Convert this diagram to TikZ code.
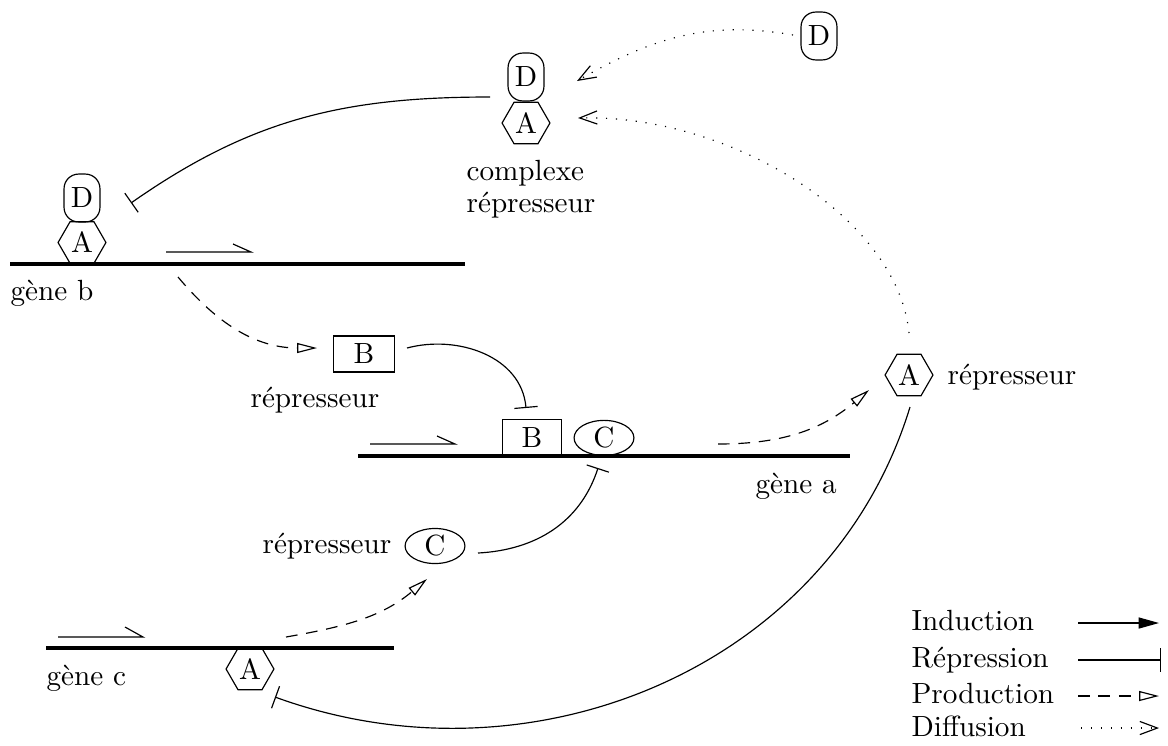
\documentclass[tikz,border=0pt]{standalone}
\usetikzlibrary{arrows.meta,shapes.geometric}
\tikzset{
  dbox/.style={draw, rounded corners=5pt, minimum width=12.3pt, minimum height=16.4pt, inner sep=0pt},
  hexa/.style={draw, regular polygon, regular polygon sides=6, minimum size=16.4pt, inner sep=0pt},
  bbox/.style={draw, rectangle, minimum width=20pt, minimum height=12.3pt, inner sep=0pt},
  cell/.style={draw, ellipse, minimum width=20.5pt, minimum height=12pt, inner sep=0pt},
  gene/.style={line width=1.1pt},
  lbl/.style={anchor=base west, inner sep=0pt},
  induce/.style={-{Triangle[length=7pt,width=3.8pt]}},
  repress/.style={-{Bar[width=8pt]}},
  produce/.style={dash pattern=on 4pt off 3pt, -{Triangle[open,length=6.8pt,width=3.4pt]}},
  diffuse/.style={dash pattern=on 0.4pt off 3pt, -{Straight Barb[length=6pt,width=4.5pt]}},
}
\begin{document}
\begin{tikzpicture}[x=0.3425pt,y=-0.3425pt]
\useasboundingbox (0,0) rectangle (1168,745);

% complex
\node[dbox] (Dfree) at (819,36) {D};
\node[dbox] (cD) at (526,77) {D};
\node[hexa] (cA) at (526,123) {A};
\node[lbl] (cplx1) at (466,180) {complexe};
\node[lbl] (cplx2) at (466,212) {répresseur};

% gene b
\coordinate (gb1) at (10,264); \coordinate (gb2) at (465,264);
\draw[gene] (gb1) -- (gb2);
\node[hexa] (bA) at (82,242.5) {A};
\node[dbox] (bD) at (82,198) {D};
\coordinate (pb1) at (166,252); \coordinate (pb2) at (251,252); \coordinate (pb3) at (233,244);
\draw (pb1) -- (pb2) -- (pb3);
\node[lbl] (gbl) at (10,300) {gène b};

% B repressor
\node[bbox, minimum width=20.9pt] (Brep) at (364,354) {B};
\node[lbl] (Brepl) at (250,407) {répresseur};

% gene a
\coordinate (ga1) at (358,456); \coordinate (ga2) at (850,456);
\draw[gene] (ga1) -- (ga2);
\coordinate (pa1) at (370,444); \coordinate (pa2) at (455,444); \coordinate (pa3) at (437,436);
\draw (pa1) -- (pa2) -- (pa3);
\node[bbox, minimum width=20.3pt, anchor=south] (aB) at (532,456) {B};
\node[cell, anchor=south] (aC) at (604,456) {C};
\node[lbl] (gal) at (755,493) {gène a};

% A repressor
\node[hexa] (Arep) at (909,375) {A};
\node[lbl] (Arepl) at (947,384) {répresseur};

% C repressor
\node[cell] (Crep) at (435,546) {C};
\node[lbl] (Crepl) at (262,553) {répresseur};

% gene c
\coordinate (gc1) at (46,648); \coordinate (gc2) at (394,648);
\draw[gene] (gc1) -- (gc2);
\coordinate (pc1) at (58,637); \coordinate (pc2) at (143,637); \coordinate (pc3) at (125,627);
\draw (pc1) -- (pc2) -- (pc3);
\node[hexa] (cgA) at (250,669) {A};
\node[lbl] (gcl) at (46,685) {gène c};

% connectors
\coordinate (cs) at (490,97); \coordinate (rb) at (131,203);
\draw[repress] (cs) to[out=180,in=35] (rb);

\coordinate (ds) at (793,35); \coordinate (de) at (577,81);
\draw[diffuse] (ds) to[out=170,in=30] (de);

\coordinate (as) at (909,333); \coordinate (ae) at (578,118);
\draw[diffuse] (as) .. controls (898,218) and (730,114) .. (ae);

\coordinate (pbs) at (178,277); \coordinate (pbe) at (317,348);
\draw[produce] (pbs) to[out=-50,in=180] (pbe);

\coordinate (brs) at (407,348); \coordinate (rB) at (526,408);
\draw[repress] (brs) to[out=15,in=95] (rB);

\coordinate (crs) at (478,553); \coordinate (rC) at (598,468);
\draw[repress] (crs) to[out=3,in=-108] (rC);

\coordinate (pas) at (718,444); \coordinate (pae) at (869,390);
\draw[produce] (pas) to[out=0,in=-140] (pae);

\coordinate (pcs) at (286,637); \coordinate (pce) at (427,579);
\draw[produce] (pcs) to[out=10,in=-140] (pce);

\coordinate (ars) at (910,407); \coordinate (arc) at (275,697);
\draw[repress] (ars) to[out=-107,in=-20] (arc);

% legend
\node[lbl] (l1) at (911,630) {Induction};
\node[lbl] (l2) at (911,667) {Répression};
\node[lbl] (l3) at (911,703) {Production};
\node[lbl] (l4) at (911,736) {Diffusion};
\coordinate (i1) at (1078,623); \coordinate (i2) at (1159,623);
\draw[induce] (i1) -- (i2);
\coordinate (r1) at (1078,660); \coordinate (r2) at (1161,660);
\draw[repress] (r1) -- (r2);
\coordinate (p1) at (1078,696); \coordinate (p2) at (1159,696);
\draw[produce] (p1) -- (p2);
\coordinate (f1) at (1081,728); \coordinate (f2) at (1159,728);
\draw[diffuse] (f1) -- (f2);
\end{tikzpicture}
\end{document}
